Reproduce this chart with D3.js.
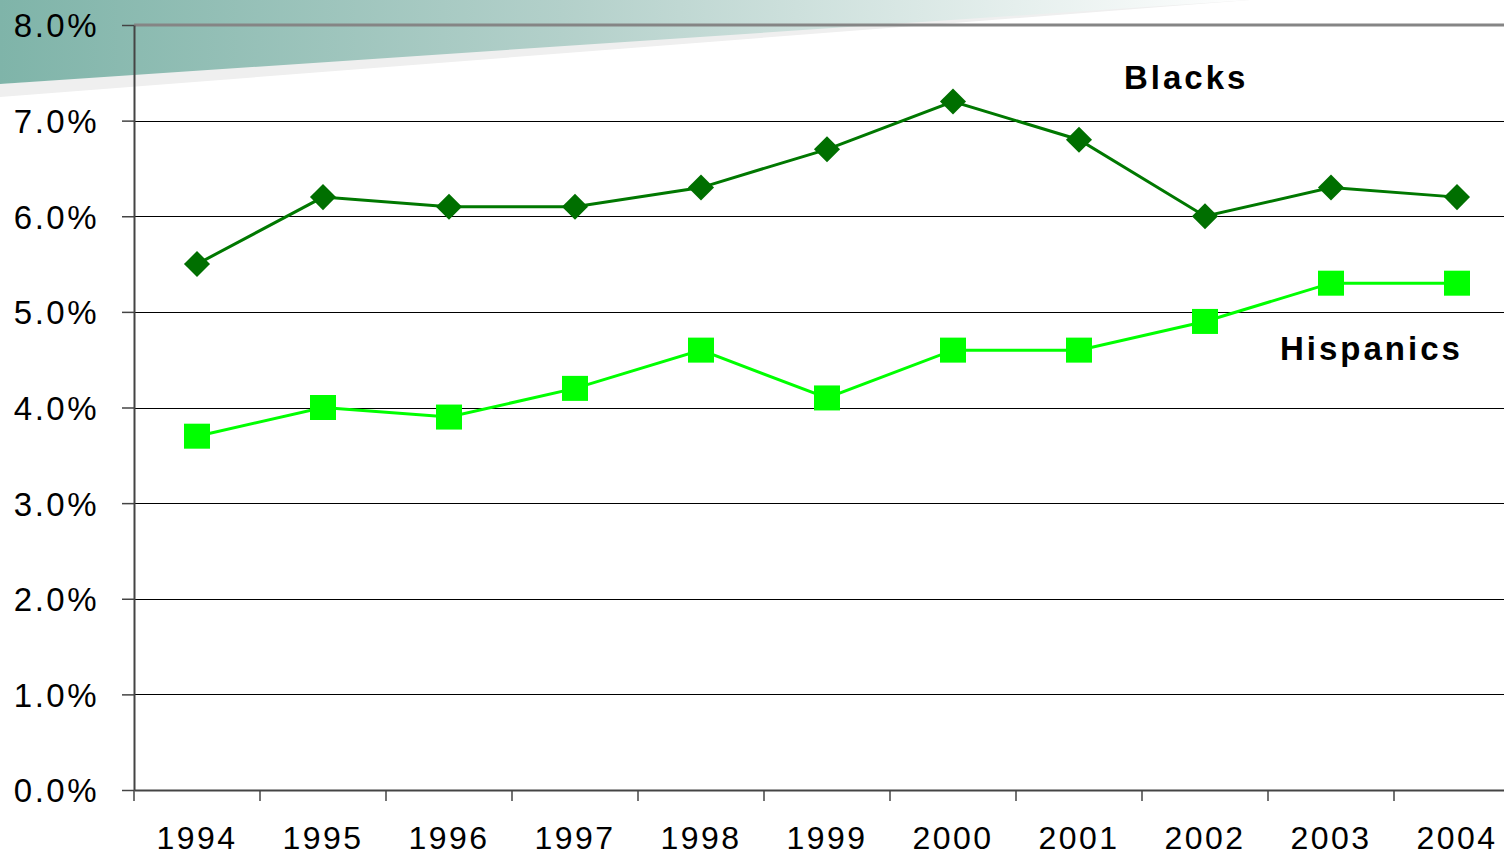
<!DOCTYPE html>
<html>
<head>
<meta charset="utf-8">
<script src="https://cdn.jsdelivr.net/npm/d3@7"></script>
<style>
  body { margin: 0; background: #fff; overflow: hidden; }
  text { font-family: "Liberation Sans", Arial, sans-serif; }
</style>
</head>
<body>
<div id="chart"></div>
<script>
var years = ["1994", "1995", "1996", "1997", "1998", "1999", "2000", "2001", "2002", "2003", "2004"];
var blacks = [5.5, 6.2, 6.1, 6.1, 6.3, 6.7, 7.2, 6.8, 6.0, 6.3, 6.2];
var hispanics = [3.7, 4.0, 3.9, 4.2, 4.6, 4.1, 4.6, 4.6, 4.9, 5.3, 5.3];
var yTicks = [0, 1, 2, 3, 4, 5, 6, 7, 8];

var svgWidth = 1504;
var svgHeight = 857;

var svg = d3.select("#chart")
  .append("svg")
  .attr("width", svgWidth)
  .attr("height", svgHeight);

// decorative banner top-left
var defs = svg.append("defs");
var grad = defs.append("linearGradient")
  .attr("id", "band")
  .attr("x1", "0%").attr("x2", "100%")
  .attr("y1", "0%").attr("y2", "0%");
grad.append("stop").attr("offset", "0%").attr("stop-color", "#7fb4a9");
grad.append("stop").attr("offset", "45%").attr("stop-color", "#b3d0ca");
grad.append("stop").attr("offset", "100%").attr("stop-color", "#ffffff");

svg.append("polygon")
  .attr("points", "0,84 0,97 1250,0 1100,0")
  .attr("fill", "#efefef");
svg.append("polygon")
  .attr("points", "0,0 1250,0 0,84")
  .attr("fill", "url(#band)");

var plotLeft = 134, plotTop = 25, plotBottom = 790;

var x = d3.scaleBand()
  .domain(years)
  .range([plotLeft, plotLeft + 126 * years.length])
  .padding(0);

var y = d3.scaleLinear()
  .domain([0, 8])
  .range([plotBottom, plotTop]);

// gridlines
svg.append("g")
  .selectAll("line")
  .data(yTicks.filter(d => d > 0 && d < 8))
  .enter()
  .append("line")
  .attr("x1", plotLeft)
  .attr("x2", svgWidth)
  .attr("y1", d => Math.round(y(d)) + 0.5)
  .attr("y2", d => Math.round(y(d)) + 0.5)
  .attr("stroke", "#000")
  .attr("stroke-width", 1);

// top border
svg.append("line")
  .attr("x1", plotLeft).attr("x2", svgWidth)
  .attr("y1", plotTop).attr("y2", plotTop)
  .attr("stroke", "#858585")
  .attr("stroke-width", 3);

// y axis
var yAxis = d3.axisLeft(y)
  .tickValues(yTicks)
  .tickFormat(d => d3.format(".1f")(d) + "%")
  .tickSize(12)
  .tickSizeOuter(0)
  .tickPadding(23);

var yg = svg.append("g")
  .attr("transform", `translate(${plotLeft}, 0)`)
  .call(yAxis);
yg.select(".domain").attr("stroke", "#444").attr("stroke-width", 2);
yg.selectAll(".tick line").attr("stroke", "#444").attr("stroke-width", 1.5);
yg.selectAll(".tick text")
  .attr("font-size", "33px")
  .attr("fill", "#000")
  .attr("letter-spacing", "2.5px")
  .attr("dy", "0.36em")
  .style("font-family", "'Liberation Sans', Arial, sans-serif");

// x axis
var xAxis = d3.axisBottom(x)
  .tickSize(0)
  .tickSizeOuter(0)
  .tickPadding(36);

var xg = svg.append("g")
  .attr("transform", `translate(0, ${plotBottom})`)
  .call(xAxis);
xg.select(".domain").attr("stroke", "#444").attr("stroke-width", 2);
xg.selectAll(".tick text")
  .attr("font-size", "32px")
  .attr("fill", "#000")
  .attr("letter-spacing", "2.5px")
  .style("font-family", "'Liberation Sans', Arial, sans-serif");

// category boundary ticks
svg.append("g")
  .selectAll("line")
  .data(years)
  .enter()
  .append("line")
  .attr("x1", d => x(d))
  .attr("x2", d => x(d))
  .attr("y1", plotBottom)
  .attr("y2", plotBottom + 11)
  .attr("stroke", "#444")
  .attr("stroke-width", 1.5);

var cx = (d, i) => x(years[i]) + x.bandwidth() / 2;

var line = d3.line()
  .x((d, i) => cx(d, i))
  .y(d => y(d));

// Hispanics
svg.append("path")
  .datum(hispanics)
  .attr("d", line)
  .attr("fill", "none")
  .attr("stroke", "#00ff00")
  .attr("stroke-width", 3);

svg.append("g")
  .selectAll("rect")
  .data(hispanics)
  .enter()
  .append("rect")
  .attr("x", (d, i) => cx(d, i) - 13)
  .attr("y", d => y(d) - 12.5)
  .attr("width", 26)
  .attr("height", 25)
  .attr("fill", "#00ff00");

// Blacks
svg.append("path")
  .datum(blacks)
  .attr("d", line)
  .attr("fill", "none")
  .attr("stroke", "#007800")
  .attr("stroke-width", 3);

svg.append("g")
  .selectAll("path")
  .data(blacks)
  .enter()
  .append("path")
  .attr("d", d3.symbol().type(d3.symbolSquare).size(340))
  .attr("transform", (d, i) => `translate(${cx(d, i)}, ${y(d)}) rotate(45)`)
  .attr("fill", "#006f00");

// series labels
svg.append("text")
  .attr("x", 1124)
  .attr("y", 89)
  .attr("font-size", "33px")
  .attr("font-weight", "bold")
  .attr("letter-spacing", "3px")
  .text("Blacks");

svg.append("text")
  .attr("x", 1280)
  .attr("y", 360)
  .attr("font-size", "33px")
  .attr("font-weight", "bold")
  .attr("letter-spacing", "3px")
  .text("Hispanics");
</script>
</body>
</html>
